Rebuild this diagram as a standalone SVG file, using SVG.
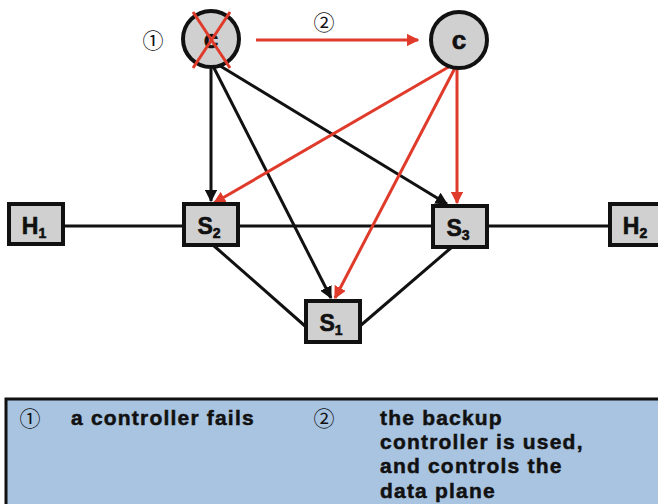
<svg xmlns="http://www.w3.org/2000/svg" width="658" height="504" viewBox="0 0 658 504">
  <defs>
    <marker id="ahBlack" viewBox="0 0 10 10" refX="9" refY="5" markerWidth="4.2" markerHeight="4.2" orient="auto" markerUnits="strokeWidth">
      <path d="M0,0 L10,5 L0,10 z" fill="#111"/>
    </marker>
    <marker id="ahRed" viewBox="0 0 10 10" refX="9" refY="5" markerWidth="4.2" markerHeight="4.2" orient="auto" markerUnits="strokeWidth">
      <path d="M0,0 L10,5 L0,10 z" fill="#e03a2a"/>
    </marker>
  </defs>
  <style>
    .node { fill: #d0d0d0; stroke: #111; stroke-width: 4; }
    .lbl { font-family: "Liberation Sans", Arial, sans-serif; font-weight: bold; font-size: 23px; fill: #111; stroke: #111; stroke-width: 0.6; text-anchor: middle; }
    .sub { font-size: 14px; }
    .link { stroke: #111; stroke-width: 3; fill: none; }
    .ctl { stroke: #111; stroke-width: 3; fill: none; marker-end: url(#ahBlack); }
    .red { stroke: #e03a2a; stroke-width: 3; fill: none; marker-end: url(#ahRed); }
    .num { font-family: "Noto Sans CJK JP", "DejaVu Serif", serif; font-size: 21px; fill: #111; text-anchor: middle; }
    .leg { font-family: "Liberation Sans", Arial, sans-serif; font-weight: bold; font-size: 21px; letter-spacing: 1.2px; fill: #111; stroke: #111; stroke-width: 0.5; }
  </style>

  <!-- data plane links -->
  <g id="links">
    <line class="link" x1="63" y1="226" x2="183" y2="226"/>
    <line class="link" x1="238" y1="226" x2="432" y2="226"/>
    <line class="link" x1="487" y1="226" x2="609" y2="226"/>
    <line class="link" x1="213" y1="245" x2="305" y2="326"/>
    <line class="link" x1="452" y1="247" x2="360" y2="326"/>
  </g>

  <!-- control channels -->
  <g id="connectors">
    <line class="ctl" x1="211" y1="69" x2="211" y2="201"/>
    <line class="ctl" x1="213" y1="66" x2="331" y2="298"/>
    <line class="ctl" x1="217" y1="64" x2="447" y2="204"/>
    <line class="red" x1="256" y1="40" x2="418" y2="40"/>
    <line class="red" x1="452" y1="65" x2="214" y2="203"/>
    <line class="red" x1="455" y1="68" x2="335" y2="298"/>
    <line class="red" x1="457" y1="69" x2="457" y2="203"/>
  </g>

  <g id="ctrl-failed">
    <circle class="node" cx="211" cy="39" r="28"/>
    <text class="lbl" x="211" y="48" style="font-size:26px">c</text>
    <line x1="193" y1="12" x2="230" y2="68" stroke="#e03a2a" stroke-width="3"/>
    <line x1="230" y1="12" x2="193" y2="68" stroke="#e03a2a" stroke-width="3"/>
    <text class="num" x="153" y="48">①</text>
  </g>

  <g id="ctrl-backup">
    <circle class="node" cx="459" cy="40" r="28"/>
    <text class="lbl" x="459" y="49" style="font-size:26px">c</text>
  </g>

  <text class="num" x="324" y="30">②</text>

  <g id="H1">
    <rect class="node" x="9" y="204" width="54" height="40"/>
    <text class="lbl" x="34" y="234">H<tspan class="sub" dy="4">1</tspan></text>
  </g>
  <g id="S2">
    <rect class="node" x="184" y="204" width="54" height="41"/>
    <text class="lbl" x="209" y="234">S<tspan class="sub" dy="4">2</tspan></text>
  </g>
  <g id="S3">
    <rect class="node" x="433" y="206" width="54" height="41"/>
    <text class="lbl" x="458" y="236">S<tspan class="sub" dy="4">3</tspan></text>
  </g>
  <g id="H2">
    <rect class="node" x="610" y="204" width="56" height="41"/>
    <text class="lbl" x="635" y="234">H<tspan class="sub" dy="4">2</tspan></text>
  </g>
  <g id="S1">
    <rect class="node" x="306" y="301" width="54" height="41"/>
    <text class="lbl" x="331" y="331">S<tspan class="sub" dy="4">1</tspan></text>
  </g>

  <g id="legend">
    <rect x="6" y="399" width="660" height="110" fill="#a9c4e0" stroke="#111" stroke-width="3"/>
    <text class="num" x="30" y="426">①</text>
    <text class="leg" x="71" y="425">a controller fails</text>
    <text class="num" x="324" y="426">②</text>
    <text class="leg" x="380" y="425">the backup</text>
    <text class="leg" x="380" y="449">controller is used,</text>
    <text class="leg" x="380" y="473">and controls the</text>
    <text class="leg" x="380" y="498">data plane</text>
  </g>
</svg>
